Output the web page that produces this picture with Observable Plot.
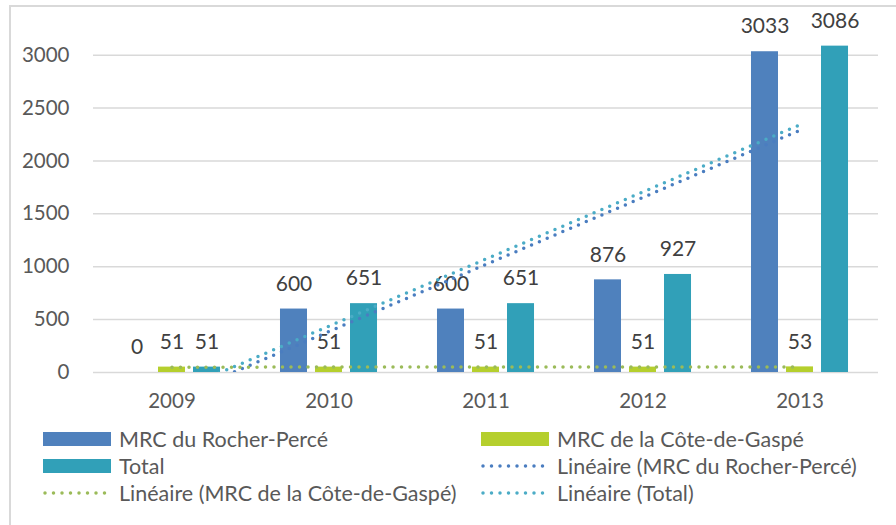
<!DOCTYPE html>
<html>
<head>
<meta charset="utf-8">
<script src="https://cdn.jsdelivr.net/npm/d3@7"></script>
<script src="https://cdn.jsdelivr.net/npm/@observablehq/plot@0.6"></script>
<style>
  html, body { margin: 0; padding: 0; background: #fff; }
  body { width: 896px; height: 525px; position: relative; overflow: hidden; font-family: Lato, "Open Sans", sans-serif; }
  #frame { position: absolute; left: 9px; top: 5px; width: 900px; height: 530px; border-left: 2px solid #d9d9d9; border-top: 2px solid #d9d9d9; box-sizing: border-box; }
  #chart { position: absolute; left: 0; top: 0; }
  #legend { position: absolute; left: 0; top: 426px; width: 896px; }
  .item { position: absolute; display: flex; align-items: center; height: 26px; color: #595959; font-size: 21.5px; white-space: nowrap; }
  .item svg { margin-right: 8px; }
</style>
</head>
<body>
<div id="frame"></div>
<div id="chart"></div>
<div id="legend"></div>
<script>
const years = ["2009", "2010", "2011", "2012", "2013"];
const seriesNames = ["MRC du Rocher-Percé", "MRC de la Côte-de-Gaspé", "Total"];
const rocherPerce = [0, 600, 600, 876, 3033];
const coteDeGaspe = [51, 51, 51, 51, 53];
const total = [51, 651, 651, 927, 3086];
const yTicks = [0, 500, 1000, 1500, 2000, 2500, 3000];

const barColors = ["#4f81bd", "#b5cf2d", "#31a0b8"];
const trendColors = ["#4a7dc0", "#9bbb59", "#4bacc6"];

const seriesValues = [rocherPerce, coteDeGaspe, total];
const data = [];
seriesValues.forEach((vals, s) => {
  vals.forEach((v, i) => data.push({ series: seriesNames[s], s, year: years[i], xi: i + 1, value: v }));
});

// bar layout within each year slot (in x-scale units, one unit per year)
const barW = 0.172, step = 0.223;
const bx1 = d => d.xi + (d.s - 1) * step - barW / 2;
const bx2 = d => d.xi + (d.s - 1) * step + barW / 2;
const bxc = d => d.xi + (d.s - 1) * step;

const font = "Lato, 'Open Sans', sans-serif";
const plot = Plot.plot({
  width: 896,
  height: 426,
  marginLeft: 93,
  marginRight: 18,
  marginTop: 23,
  marginBottom: 54,
  style: { fontFamily: font, fontSize: "20.5px", color: "#595959", background: "transparent" },
  x: { domain: [0.5, 5.5] },
  y: { domain: [0, 3300] },
  marks: [
    Plot.ruleY(yTicks, { stroke: "#d9d9d9", strokeWidth: 1.5 }),
    Plot.axisY({ ticks: yTicks, tickFormat: d => String(d), tickSize: 0, tickPadding: 24, label: null, fill: "#595959", fontSize: 20.5 }),
    Plot.axisX({ ticks: [1, 2, 3, 4, 5], tickFormat: i => years[i - 1], tickSize: 0, tickPadding: 21, label: null, fill: "#595959", fontSize: 20.5 }),
    Plot.rectY(data, { x1: bx1, x2: bx2, y1: 0, y2: "value", fill: d => barColors[d.s] }),
    Plot.text(data, { x: bxc, y: "value", text: d => String(d.value), dy: -25, fill: "#404040", fontSize: 21 }),
    ...seriesValues.map((vals, s) =>
      Plot.linearRegressionY(data.filter(d => d.s === s), {
        x: "xi", y: "value", ci: 0, stroke: trendColors[s], strokeWidth: 3.5,
        strokeDasharray: "0 8.5", strokeLinecap: "round", clip: "frame"
      })
    )
  ]
});
document.getElementById("chart").appendChild(plot);

// legend
const legendItems = [
  { label: seriesNames[0], color: barColors[0], type: "bar", col: 0, row: 0 },
  { label: seriesNames[1], color: barColors[1], type: "bar", col: 1, row: 0 },
  { label: seriesNames[2], color: barColors[2], type: "bar", col: 0, row: 1 },
  { label: "Linéaire (" + seriesNames[0] + ")", color: trendColors[0], type: "line", col: 1, row: 1 },
  { label: "Linéaire (" + seriesNames[1] + ")", color: trendColors[1], type: "line", col: 0, row: 2 },
  { label: "Linéaire (" + seriesNames[2] + ")", color: trendColors[2], type: "line", col: 1, row: 2 }
];
const colX = [43, 481];
const legend = document.getElementById("legend");
legendItems.forEach(it => {
  const div = document.createElement("div");
  div.className = "item";
  div.style.left = colX[it.col] + "px";
  div.style.top = (it.row * 27) + "px";
  const sw = it.type === "bar"
    ? `<svg width="68" height="14"><rect x="0" y="0" width="68" height="14" fill="${it.color}"/></svg>`
    : `<svg width="68" height="14"><line x1="2" x2="66" y1="7" y2="7" stroke="${it.color}" stroke-width="3.5" stroke-dasharray="0 8.5" stroke-linecap="round"/></svg>`;
  div.innerHTML = sw + `<span>${it.label}</span>`;
  legend.appendChild(div);
});
</script>
</body>
</html>
